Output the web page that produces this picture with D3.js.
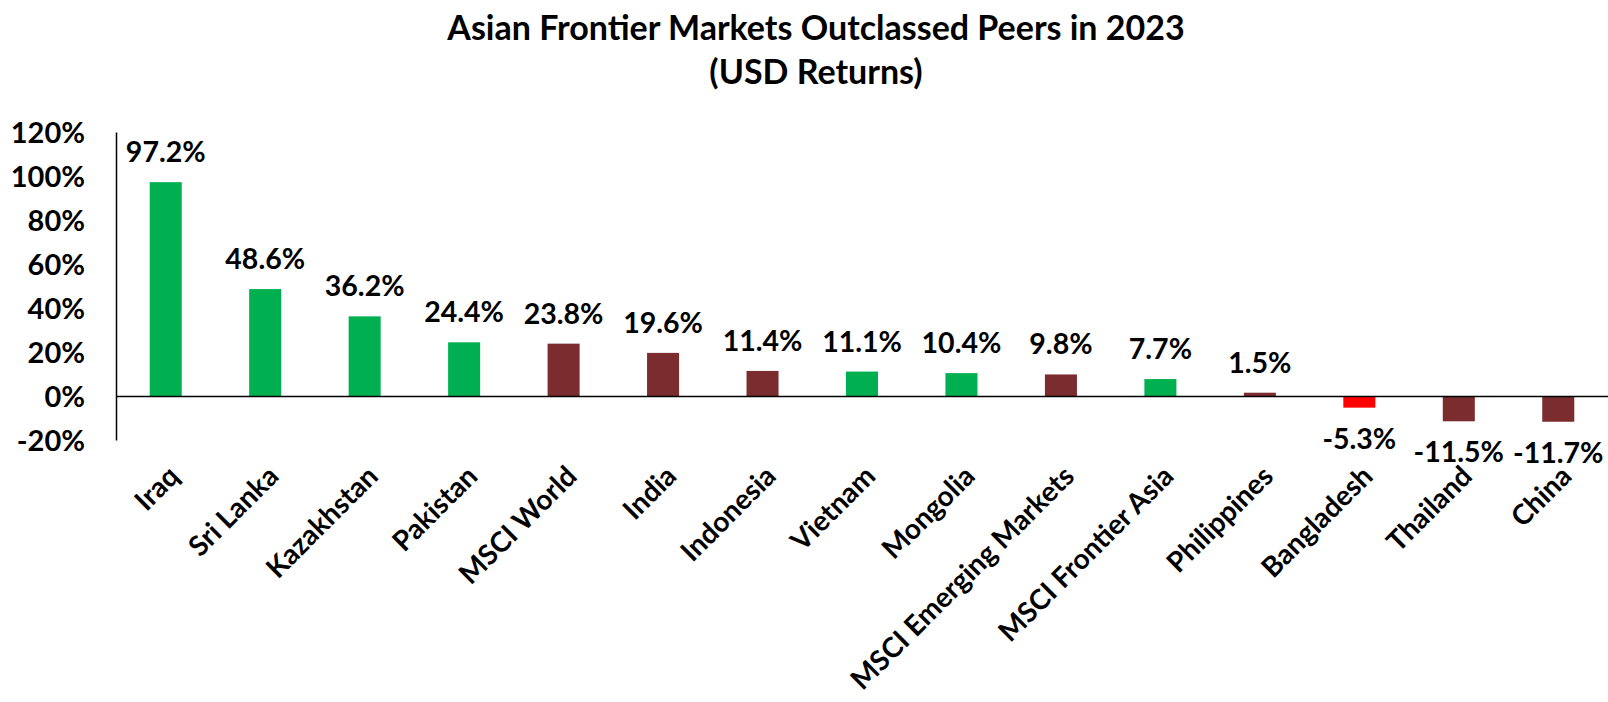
<!DOCTYPE html>
<html>
<head>
<meta charset="utf-8">
<script src="https://cdn.jsdelivr.net/npm/d3@7"></script>
<style>
  html, body { margin: 0; padding: 0; background: #fff; }
  svg { display: block; font-family: Lato, "Open Sans", sans-serif; font-weight: bold; }
</style>
</head>
<body>
<svg id="chart" width="1608" height="702"></svg>
<script>
const categories = ["Iraq", "Sri Lanka", "Kazakhstan", "Pakistan", "MSCI World", "India", "Indonesia",
  "Vietnam", "Mongolia", "MSCI Emerging Markets", "MSCI Frontier Asia", "Philippines", "Bangladesh", "Thailand", "China"];
const values = [97.2, 48.6, 36.2, 24.4, 23.8, 19.6, 11.4, 11.1, 10.4, 9.8, 7.7, 1.5, -5.3, -11.5, -11.7];
const groups = ["frontier", "frontier", "frontier", "frontier", "index", "peer", "peer",
  "frontier", "frontier", "index", "frontier", "peer", "negative", "peer", "peer"];
const yTicks = [-20, 0, 20, 40, 60, 80, 100, 120];
const titleLines = ["Asian Frontier Markets Outclassed Peers in 2023", "(USD Returns)"];

const colorOf = { frontier: "#00B050", index: "#7B2C2F", peer: "#7B2C2F", negative: "#FF0000" };

const data = categories.map((c, i) => ({ cat: c, v: values[i], g: groups[i] }));

const svg = d3.select("#chart");

const x = d3.scaleBand().domain(categories).range([116, 1608]).paddingInner(0.678).paddingOuter(0.339);
const y = d3.scaleLinear().domain([-20, 120]).range([440, 132]);

// Title
const title = svg.append("text").attr("text-anchor", "middle").attr("fill", "#000").style("font-size", "34px");
title.selectAll("tspan").data(titleLines).join("tspan")
  .attr("x", 816).attr("y", (d, i) => i === 0 ? 40 : 84).text(d => d);

// Bars
svg.append("g").selectAll("rect").data(data).join("rect")
  .attr("x", d => x(d.cat))
  .attr("width", x.bandwidth())
  .attr("y", d => y(Math.max(0, d.v)))
  .attr("height", d => Math.abs(y(d.v) - y(0)))
  .attr("fill", d => colorOf[d.g]);

// Y axis
const yAxis = svg.append("g").attr("transform", "translate(116,0)")
  .call(d3.axisLeft(y).tickValues(yTicks).tickSize(0).tickSizeOuter(0).tickPadding(31).tickFormat(d => d + "%"));
yAxis.select(".domain").attr("stroke", "#000").attr("stroke-width", 1.5);
yAxis.selectAll("text").style("font-size", "29px").style("font-family", "Lato, sans-serif").style("font-weight", "bold")
  .attr("fill", "#000").attr("dy", "0.36em");

// Zero line (x axis)
const xAxis = svg.append("g").attr("transform", `translate(0,${y(0)})`)
  .call(d3.axisBottom(x).tickSize(0).tickSizeOuter(0).tickFormat(""));
xAxis.select(".domain").attr("stroke", "#000").attr("stroke-width", 1.5);

// Category labels
const catAxis = svg.append("g").attr("transform", "translate(0,478)")
  .call(d3.axisBottom(x).tickSize(0).tickPadding(0));
catAxis.select(".domain").remove();
catAxis.selectAll("text")
  .attr("x", 0).attr("y", 0).attr("dy", 0)
  .attr("text-anchor", "end")
  .attr("transform", "translate(15,0) rotate(-45)")
  .style("font-size", "28px").style("font-family", "Lato, sans-serif").style("font-weight", "bold")
  .attr("fill", "#000");

// Data labels
svg.append("g").selectAll("text").data(data).join("text")
  .attr("x", d => x(d.cat) + x.bandwidth() / 2)
  .attr("y", d => d.v >= 0 ? y(d.v) - 20 : y(d.v) + 41)
  .attr("text-anchor", "middle")
  .style("font-size", "28.5px")
  .attr("fill", "#000")
  .text(d => d.v.toFixed(1) + "%");
</script>
</body>
</html>
